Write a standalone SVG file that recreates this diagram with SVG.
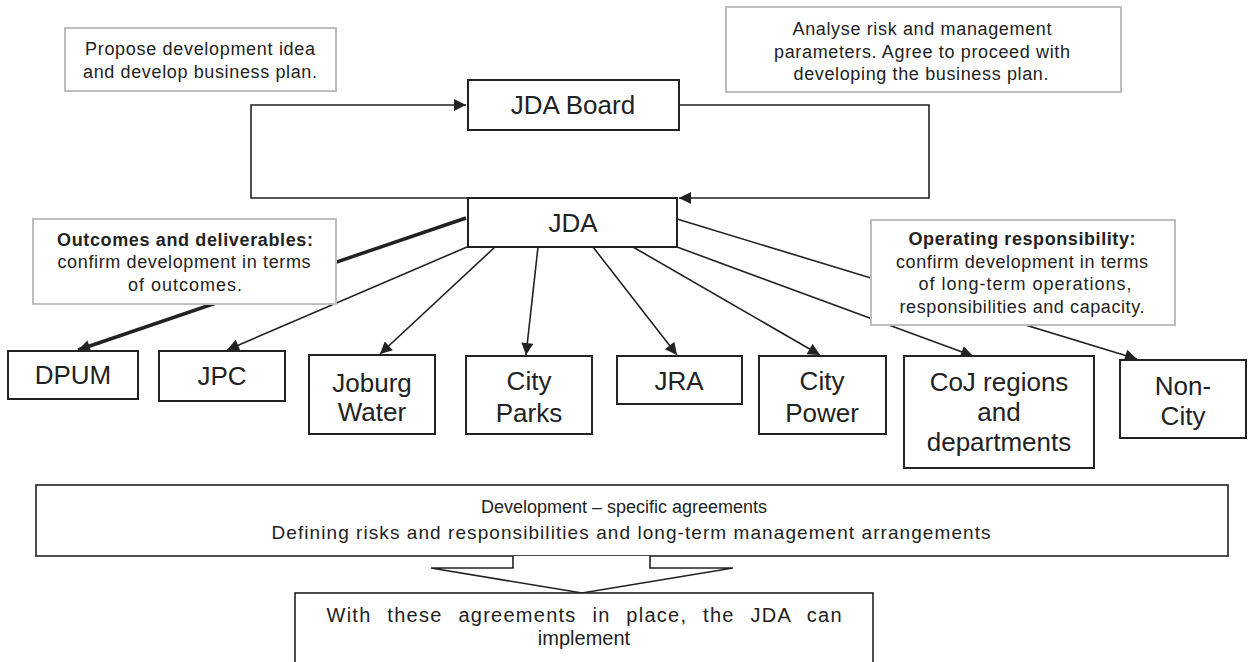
<svg xmlns="http://www.w3.org/2000/svg" width="1248" height="662" viewBox="0 0 1248 662">
<defs>
<style>
.node{fill:#fff;stroke:#222;stroke-width:2}
.note{fill:#fff;stroke:#bdbdbd;stroke-width:2}
.t{font-family:"Liberation Sans",Arial,sans-serif;fill:#222;text-anchor:middle}
.big{font-size:26px}
.sm{font-size:18px}
.b{font-weight:bold}
.ln{fill:none;stroke:#222;stroke-width:1.6}
.thick{stroke-width:3.5}
.thin{stroke-width:1.6}
</style>
<marker id="ah" viewBox="0 0 10 10" refX="10" refY="5" markerWidth="14" markerHeight="12" markerUnits="userSpaceOnUse" orient="auto">
<path d="M0,0 L10,5 L0,10 z" fill="#222"/>
</marker>
</defs>
<rect width="1248" height="662" fill="#fff"/>

<g id="connectors">
<path class="ln" d="M468,198 H251 V105 H466" marker-end="url(#ah)"/>
<path class="ln" d="M679,105 H929 V198 H679" marker-end="url(#ah)"/>
<line class="ln thick" x1="466" y1="218" x2="78" y2="350" marker-end="url(#ah)"/>
<line class="ln" x1="467" y1="247" x2="227" y2="350" marker-end="url(#ah)"/>
<line class="ln" x1="495" y1="247" x2="380" y2="354" marker-end="url(#ah)"/>
<line class="ln" x1="538" y1="247" x2="526" y2="355" marker-end="url(#ah)"/>
<line class="ln" x1="593" y1="247" x2="677" y2="355" marker-end="url(#ah)"/>
<line class="ln" x1="633" y1="247" x2="820" y2="355" marker-end="url(#ah)"/>
<line class="ln" x1="677" y1="247" x2="973" y2="356" marker-end="url(#ah)"/>
<line class="ln" x1="677" y1="219" x2="1137" y2="359" marker-end="url(#ah)"/>
</g>

<g id="note-propose">
<rect class="note" x="65" y="28" width="271" height="63"/>
<text class="t sm" x="200" y="55" textLength="230" lengthAdjust="spacing">Propose development idea</text>
<text class="t sm" x="200" y="78" textLength="234" lengthAdjust="spacing">and develop business plan.</text>
</g>

<g id="note-analyse">
<rect class="note" x="726" y="7" width="395" height="85"/>
<text class="t sm" x="922" y="35" textLength="259" lengthAdjust="spacing">Analyse risk and management</text>
<text class="t sm" x="922" y="58" textLength="296" lengthAdjust="spacing">parameters. Agree to proceed with</text>
<text class="t sm" x="921" y="80" textLength="255" lengthAdjust="spacing">developing the business plan.</text>
</g>

<g id="jda-board">
<rect class="node" x="468" y="80" width="211" height="50"/>
<text class="t big" x="573" y="114">JDA Board</text>
</g>

<g id="jda">
<rect class="node" x="468" y="198" width="209" height="49"/>
<text class="t big" x="573" y="232">JDA</text>
</g>

<g id="note-outcomes">
<rect class="note" x="33" y="219" width="303" height="85"/>
<text class="t sm b" x="185" y="246" textLength="256" lengthAdjust="spacing">Outcomes and deliverables:</text>
<text class="t sm" x="184" y="268" textLength="253" lengthAdjust="spacing">confirm development in terms</text>
<text class="t sm" x="185" y="291" textLength="114" lengthAdjust="spacing">of outcomes.</text>
</g>

<g id="note-operating">
<rect class="note" x="871" y="220" width="304" height="105"/>
<text class="t sm b" x="1022" y="245" textLength="227" lengthAdjust="spacing">Operating responsibility:</text>
<text class="t sm" x="1022" y="268" textLength="252" lengthAdjust="spacing">confirm development in terms</text>
<text class="t sm" x="1025" y="290" textLength="213" lengthAdjust="spacing">of long-term operations,</text>
<text class="t sm" x="1022" y="313" textLength="245" lengthAdjust="spacing">responsibilities and capacity.</text>
</g>

<g id="dpum">
<rect class="node" x="8" y="351" width="130" height="48"/>
<text class="t big" x="73" y="384">DPUM</text>
</g>
<g id="jpc">
<rect class="node" x="159" y="351" width="126" height="50"/>
<text class="t big" x="222" y="385">JPC</text>
</g>
<g id="joburg-water">
<rect class="node" x="309" y="355" width="126" height="79"/>
<text class="t big" x="372" y="392">Joburg</text>
<text class="t big" x="372" y="421">Water</text>
</g>
<g id="city-parks">
<rect class="node" x="466" y="356" width="126" height="78"/>
<text class="t big" x="529" y="390">City</text>
<text class="t big" x="529" y="422">Parks</text>
</g>
<g id="jra">
<rect class="node" x="617" y="356" width="125" height="48"/>
<text class="t big" x="679" y="390">JRA</text>
</g>
<g id="city-power">
<rect class="node" x="759" y="356" width="127" height="78"/>
<text class="t big" x="822" y="390">City</text>
<text class="t big" x="822" y="422">Power</text>
</g>
<g id="coj-regions">
<rect class="node" x="904" y="356" width="190" height="112"/>
<text class="t big" x="999" y="391">CoJ regions</text>
<text class="t big" x="999" y="421">and</text>
<text class="t big" x="999" y="451">departments</text>
</g>
<g id="non-city">
<rect class="node" x="1120" y="360" width="126" height="78"/>
<text class="t big" x="1183" y="395">Non-</text>
<text class="t big" x="1183" y="425">City</text>
</g>

<g id="agreements">
<rect class="node thin" x="36" y="485" width="1192" height="71"/>
<text class="t" style="font-size:18px" x="624" y="513">Development – specific agreements</text>
<text class="t" style="font-size:19px" x="631" y="539" textLength="719" lengthAdjust="spacing">Defining risks and responsibilities and long-term management arrangements</text>
</g>

<g id="down-arrow">
<polygon points="513,556 513,568 431,568 582,593 733,568 650,568 650,556" fill="#fff" stroke="none"/>
<polyline class="ln" points="513,556 513,568 431,568 582,593 733,568 650,568 650,556"/>
</g>

<g id="implement">
<rect class="node thin" x="295" y="593" width="578" height="100"/>
<text class="t" style="font-size:20px;word-spacing:9px" x="584" y="622" textLength="515" lengthAdjust="spacing">With these agreements in place, the JDA can</text>
<text class="t" style="font-size:20px" x="584" y="645">implement</text>
</g>
</svg>
